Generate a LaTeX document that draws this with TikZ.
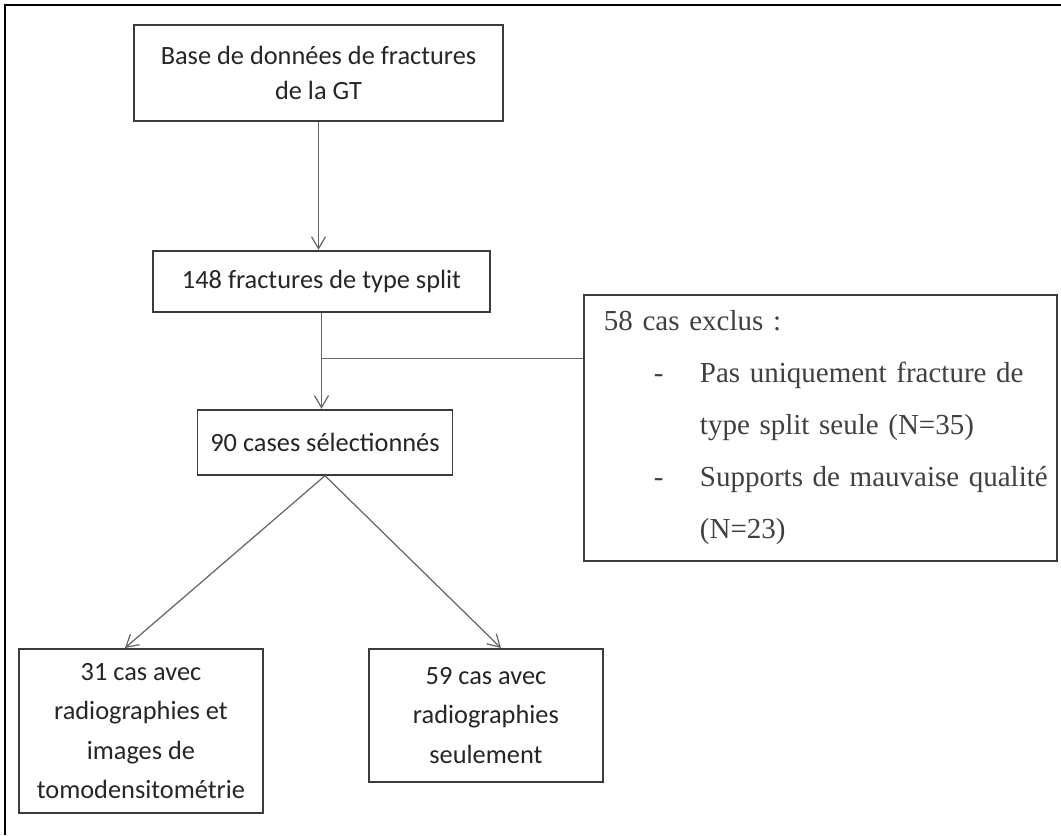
\documentclass[tikz,border=0pt]{standalone}
\usepackage{fontspec}
\setmainfont{Liberation Serif}
\newfontfamily\calibri{Carlito}
\usepackage{tikz}
\usetikzlibrary{arrows.meta, positioning, calc}
\definecolor{trait}{RGB}{60,60,60}
\definecolor{texte}{RGB}{38,38,38}
\definecolor{gristexte}{RGB}{64,64,64}
\tikzset{
  boite/.style={rectangle, draw=trait, line width=1.1pt, fill=white,
    align=center, text=texte, inner sep=2pt,
    font=\calibri\fontsize{15}{19.5}\selectfont},
  boitebas/.style={boite, font=\calibri\fontsize{15}{22.5}\selectfont},
  exclus/.style={rectangle, draw=trait, line width=1.1pt, fill=white,
    align=left, text=gristexte, inner xsep=0pt, inner ysep=0pt,
    text width=9.46cm, minimum height=5.32cm,
    font=\fontsize{16.5}{29.6}\selectfont},
  fleche/.style={-{Straight Barb[length=2.4mm, width=2.8mm]},
    line width=0.7pt, color=black!60},
  ligne/.style={line width=0.7pt, color=black!60},
  cadre/.style={line width=1.3pt, color=black}
}
\newcommand{\tiret}[1]{\mbox{\makebox[2.32cm][l]{\hspace*{1.4cm}-}#1}}
\newcommand{\suite}[1]{\mbox{\hspace*{2.32cm}#1}}

\begin{document}
\begin{tikzpicture}[x=0.02cm, y=-0.02cm]
  \useasboundingbox (0,0) rectangle (1061,835);
  % cadre de la figure
  \draw[cadre] (5,835) -- (5,5) -- (1061,5);

  \node[boite, anchor=north, minimum width=7.38cm, minimum height=1.92cm] (base)
    at (318.5,24) {Base de donn\'ees de fractures\\de la GT};
  \node[boite, below=2.56cm of base, xshift=0.06cm,
    minimum width=6.74cm, minimum height=1.22cm] (split)
    {148 fractures de type split};
  \node[boite, below=1.92cm of split, xshift=0.07cm,
    minimum width=5.1cm, minimum height=1.3cm] (select)
    {90 cases s\'electionn\'es};
  \node[exclus, anchor=north west] (exclu) at (583,294)
    {\hspace*{0.4cm}58 cas exclus :\\
     \tiret{\makebox[6.9cm][s]{Pas uniquement fracture de}}\\
     \suite{type split seule (N=35)}\\
     \tiret{Supports de mauvaise qualit\'e}\\
     \suite{(N=23)}};
  \node[boitebas, anchor=north west, minimum width=4.88cm, minimum height=3.28cm] (scanner)
    at (18,648) {31 cas avec\\radiographies et\\images de\\tomodensitom\'etrie};
  \node[boitebas, anchor=north west, minimum width=4.68cm, minimum height=2.66cm] (radio)
    at (368,648) {59 cas avec\\radiographies\\seulement};

  % connecteurs
  \coordinate (branche) at ($(split.south)!0.48!(split.south |- select.north)$);
  \draw[fleche] (base.south) -- (base.south |- split.north);
  \draw[fleche] (split.south) -- (split.south |- select.north);
  \draw[ligne] (branche) -- (branche -| exclu.west);
  \draw[fleche] (select.south) -- ([xshift=-0.32cm]scanner.north);
  \draw[fleche] (select.south) -- ([xshift=0.3cm]radio.north);
\end{tikzpicture}
\end{document}
